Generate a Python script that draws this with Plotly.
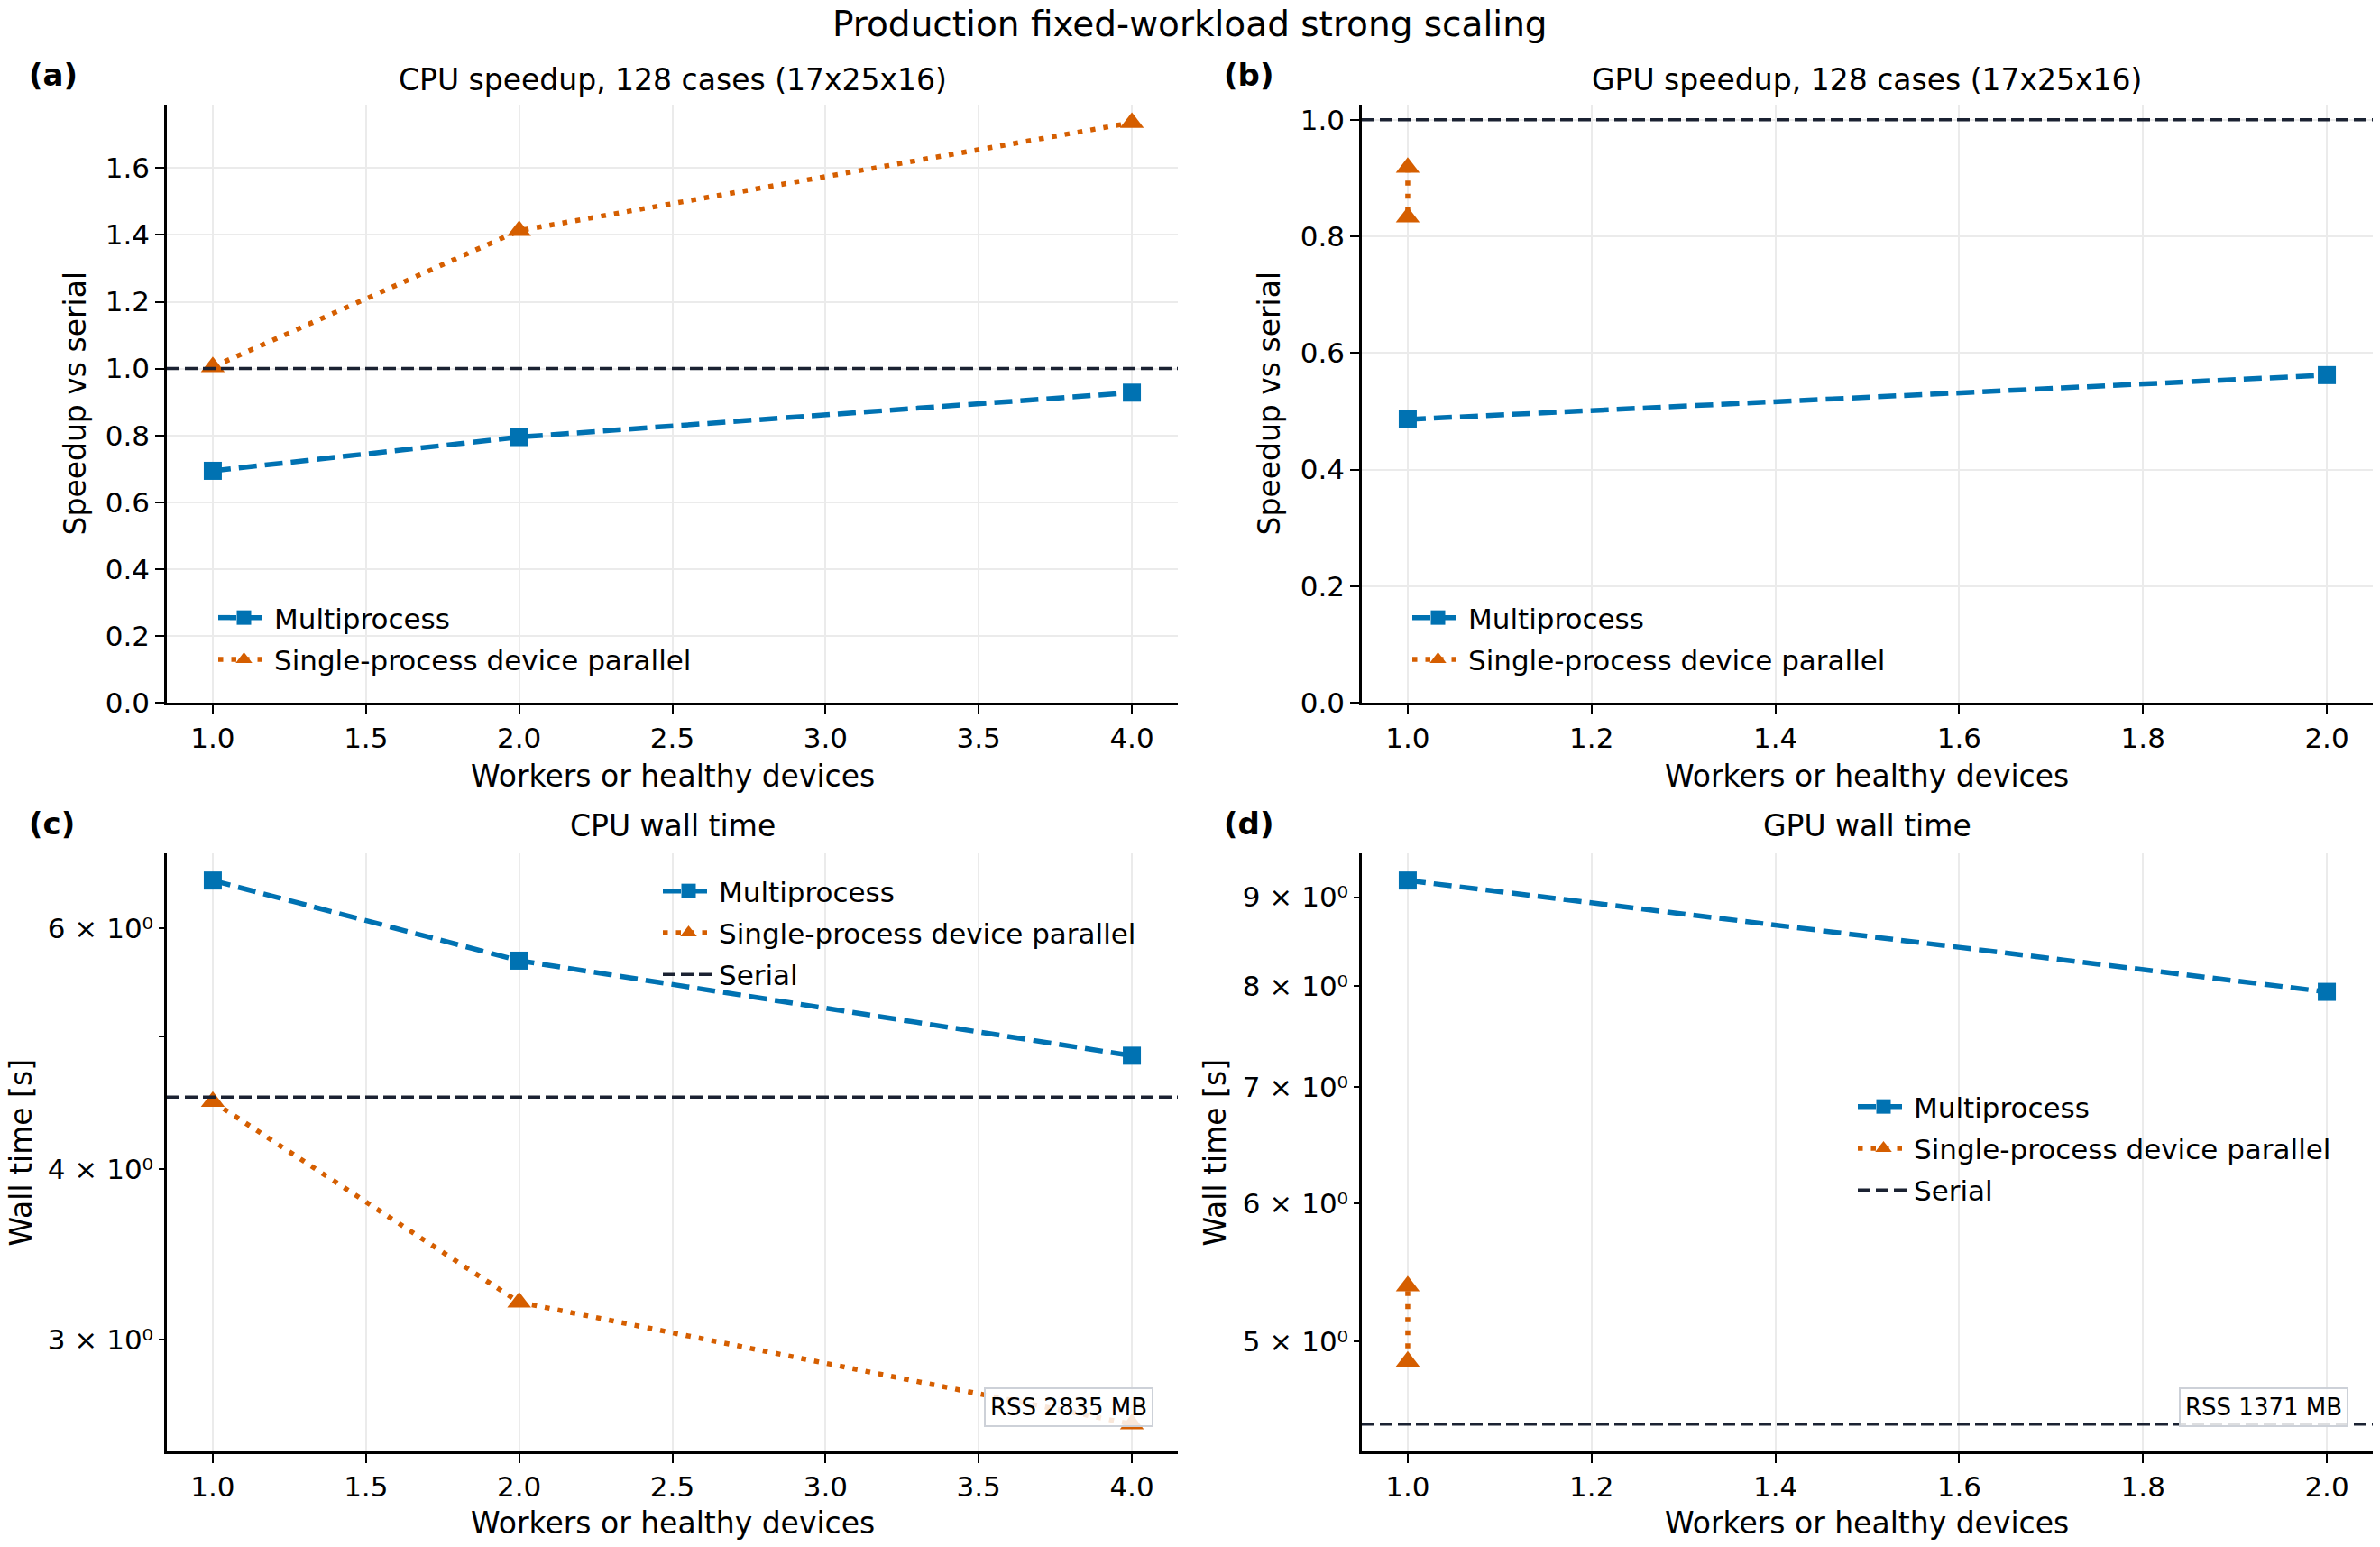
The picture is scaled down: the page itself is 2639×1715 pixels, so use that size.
import math
import plotly.graph_objects as go

# ---------------- data ----------------
workers_cpu = [1, 2, 4]
workers_gpu_mp = [1, 2]
workers_gpu_sp = [1, 1]

cpu_speedup_mp = [0.694, 0.795, 0.928]
cpu_speedup_sp = [1.005, 1.413, 1.736]
gpu_speedup_mp = [0.486, 0.562]
gpu_speedup_sp = [0.918, 0.833]

cpu_wall_mp = [6.50, 5.68, 4.84]
cpu_wall_sp = [4.48, 3.196, 2.603]
cpu_wall_serial = 4.515
gpu_wall_mp = [9.20, 7.94]
gpu_wall_sp = [4.87, 5.38]
gpu_wall_serial = 4.482

speedup_serial = 1.0
cpu_rss_mb = 2835
gpu_rss_mb = 1371

cpu_wall_ticks = [3, 4, 6]
cpu_wall_minor_ticks = [5]
cpu_wall_ticklabels = ["3 × 10⁰", "4 × 10⁰", "6 × 10⁰"]
gpu_wall_ticks = [5, 6, 7, 8, 9]
gpu_wall_ticklabels = ["5 × 10⁰", "6 × 10⁰", "7 × 10⁰", "8 × 10⁰", "9 × 10⁰"]

# ---------------- style ----------------
W, H = 2639, 1715
BLUE = "#0072B2"
ORANGE = "#D55E00"
SERIAL = "#1b2232"
FONT = "DejaVu Sans"
TICK_FS = 31
LABEL_FS = 33
LEG_FS = 31
LEG_ITEM_W = 57


def px(v):
    return v / W


def py(v):
    return 1 - v / H


xdom_l = [px(185), px(1306)]
xdom_r = [px(1510), px(2631)]
ydom_t = [py(779), py(116)]
ydom_b = [py(1609), py(946)]

fig = go.Figure()


def add_series(x, y, name, color, kind, xa, ya, legend):
    if kind == "mp":
        line = dict(color=color, width=5.5, dash="20px,9px")
        marker = dict(symbol="square", size=20, color=color, line=dict(width=0))
    else:
        line = dict(color=color, width=5.5, dash="5.5px,9px")
        marker = dict(symbol="triangle-up", size=23, color=color, line=dict(width=0))
    fig.add_trace(go.Scatter(x=x, y=y, name=name, mode="lines+markers", line=line,
                             marker=marker, xaxis=xa, yaxis=ya, legend=legend,
                             legendgroup=f"{legend}-{kind}"))


add_series(workers_cpu, cpu_speedup_mp, "Multiprocess", BLUE, "mp", "x", "y", "legend")
add_series(workers_cpu, cpu_speedup_sp, "Single-process device parallel", ORANGE, "sp", "x", "y", "legend")
add_series(workers_gpu_mp, gpu_speedup_mp, "Multiprocess", BLUE, "mp", "x2", "y2", "legend2")
add_series(workers_gpu_sp, gpu_speedup_sp, "Single-process device parallel", ORANGE, "sp", "x2", "y2", "legend2")
add_series(workers_cpu, cpu_wall_mp, "Multiprocess", BLUE, "mp", "x3", "y3", "legend3")
add_series(workers_cpu, cpu_wall_sp, "Single-process device parallel", ORANGE, "sp", "x3", "y3", "legend3")
add_series(workers_gpu_mp, gpu_wall_mp, "Multiprocess", BLUE, "mp", "x4", "y4", "legend4")
add_series(workers_gpu_sp, gpu_wall_sp, "Single-process device parallel", ORANGE, "sp", "x4", "y4", "legend4")

# serial reference lines
serial_specs = [("x", "y", speedup_serial, False, "legend"),
                ("x2", "y2", speedup_serial, False, "legend2"),
                ("x3", "y3", cpu_wall_serial, True, "legend3"),
                ("x4", "y4", gpu_wall_serial, True, "legend4")]
for xa, ya, val, show, leg in serial_specs:
    fig.add_shape(type="line", xref=f"{xa} domain", yref=ya, x0=0, x1=1, y0=val, y1=val,
                  line=dict(color=SERIAL, width=3.5, dash="14px,6px"), layer="above",
                  showlegend=show, name="Serial", legend=leg, legendgroup=f"{leg}-serial")

axis_common = dict(showline=True, linecolor="black", linewidth=2.5, ticks="outside",
                   ticklen=10, tickwidth=2.2, tickcolor="black", showgrid=True,
                   gridcolor="#ebebeb", gridwidth=2, zeroline=False, automargin=False,
                   tickfont=dict(size=TICK_FS, color="black", family=FONT), mirror=False)


def log_range(values):
    lo = math.log10(min(values))
    hi = math.log10(max(values))
    m = 0.05 * (hi - lo)
    return [lo - m, hi + m]


fig.update_layout(
    xaxis=dict(axis_common, domain=xdom_l, anchor="y", range=[0.85, 4.15],
               tickvals=[1.0, 1.5, 2.0, 2.5, 3.0, 3.5, 4.0], tickformat=".1f"),
    yaxis=dict(axis_common, domain=ydom_t, anchor="x", range=[0, 1.79],
               tickvals=[0, 0.2, 0.4, 0.6, 0.8, 1.0, 1.2, 1.4, 1.6], tickformat=".1f"),
    xaxis2=dict(axis_common, domain=xdom_r, anchor="y2", range=[0.95, 2.05],
                tickvals=[1.0, 1.2, 1.4, 1.6, 1.8, 2.0], tickformat=".1f"),
    yaxis2=dict(axis_common, domain=ydom_t, anchor="x2", range=[0, 1.026],
                tickvals=[0, 0.2, 0.4, 0.6, 0.8, 1.0], tickformat=".1f"),
    xaxis3=dict(axis_common, domain=xdom_l, anchor="y3", range=[0.85, 4.15],
                tickvals=[1.0, 1.5, 2.0, 2.5, 3.0, 3.5, 4.0], tickformat=".1f"),
    yaxis3=dict(axis_common, domain=ydom_b, anchor="x3", type="log",
                range=log_range(cpu_wall_mp + cpu_wall_sp + [cpu_wall_serial]),
                tickvals=cpu_wall_ticks, ticktext=cpu_wall_ticklabels,
                showgrid=False, ticklen=6, tickwidth=1.7,
                minor=dict(tickvals=cpu_wall_minor_ticks, ticks="outside", ticklen=6,
                           tickwidth=1.7, tickcolor="black", showgrid=False)),
    xaxis4=dict(axis_common, domain=xdom_r, anchor="y4", range=[0.95, 2.05],
                tickvals=[1.0, 1.2, 1.4, 1.6, 1.8, 2.0], tickformat=".1f"),
    yaxis4=dict(axis_common, domain=ydom_b, anchor="x4", type="log",
                range=log_range(gpu_wall_mp + gpu_wall_sp + [gpu_wall_serial]),
                tickvals=gpu_wall_ticks, ticktext=gpu_wall_ticklabels,
                showgrid=False, ticklen=6, tickwidth=1.7),
)

leg_common = dict(font=dict(size=LEG_FS, family=FONT, color="black"), bgcolor="rgba(0,0,0,0)",
                  borderwidth=0, xanchor="left", yanchor="top", traceorder="grouped",
                  tracegroupgap=3, itemwidth=LEG_ITEM_W)
off = LEG_ITEM_W + 12
fig.update_layout(
    legend=dict(leg_common, x=px(306 - off), y=py(685 - 27)),
    legend2=dict(leg_common, x=px(1630 - off), y=py(685 - 27)),
    legend3=dict(leg_common, x=px(799 - off), y=py(988 - 27)),
    legend4=dict(leg_common, x=px(2124 - off), y=py(1228 - 28)),
)

annotations = []


def text_ann(text, x, y, size, xanchor="center", bold=False, angle=0):
    if bold:
        text = f"<b>{text}</b>"
    annotations.append(dict(text=text, x=x, y=y, xref="paper", yref="paper", showarrow=False,
                            xanchor=xanchor, yanchor="middle", textangle=angle,
                            font=dict(size=size, family=FONT, color="black")))


text_ann("Production fixed-workload strong scaling", 0.5, py(27), 39)
text_ann("CPU speedup, 128 cases (17x25x16)", sum(xdom_l) / 2, py(88), LABEL_FS)
text_ann("GPU speedup, 128 cases (17x25x16)", sum(xdom_r) / 2, py(88), LABEL_FS)
text_ann("CPU wall time", sum(xdom_l) / 2, py(915), LABEL_FS)
text_ann("GPU wall time", sum(xdom_r) / 2, py(915), LABEL_FS)
text_ann("(a)", px(30), py(83), 34, xanchor="left", bold=True)
text_ann("(b)", px(1355), py(83), 34, xanchor="left", bold=True)
text_ann("(c)", px(30), py(913), 34, xanchor="left", bold=True)
text_ann("(d)", px(1355), py(913), 34, xanchor="left", bold=True)
text_ann("Workers or healthy devices", sum(xdom_l) / 2, py(860), LABEL_FS)
text_ann("Workers or healthy devices", sum(xdom_r) / 2, py(860), LABEL_FS)
text_ann("Workers or healthy devices", sum(xdom_l) / 2, py(1688), LABEL_FS)
text_ann("Workers or healthy devices", sum(xdom_r) / 2, py(1688), LABEL_FS)
text_ann("Speedup vs serial", px(83), sum(ydom_t) / 2, LABEL_FS, angle=-90)
text_ann("Speedup vs serial", px(1407), sum(ydom_t) / 2, LABEL_FS, angle=-90)
text_ann("Wall time [s]", px(23), sum(ydom_b) / 2, LABEL_FS, angle=-90)
text_ann("Wall time [s]", px(1347), sum(ydom_b) / 2, LABEL_FS, angle=-90)

for xa, ya, rss in (("x3", "y3", cpu_rss_mb), ("x4", "y4", gpu_rss_mb)):
    annotations.append(dict(text=f"RSS {rss} MB", x=0.976, y=0.041, xref=f"{xa} domain",
                            yref=f"{ya} domain", xanchor="right", yanchor="bottom",
                            showarrow=False, font=dict(size=26, family=FONT, color="black"),
                            bgcolor="rgba(255,255,255,0.85)", bordercolor="#cdd1d8",
                            borderwidth=2, borderpad=5))

fig.update_layout(
    template="none",
    annotations=annotations,
    width=W, height=H,
    margin=dict(l=0, r=0, t=0, b=0, autoexpand=False),
    paper_bgcolor="white", plot_bgcolor="white",
    font=dict(family=FONT, color="black"),
)

fig.write_html("out.html")
